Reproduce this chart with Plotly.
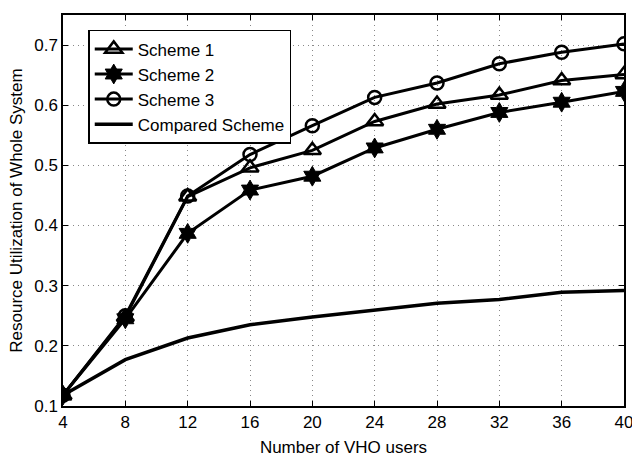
import plotly.graph_objects as go

users = [4, 8, 12, 16, 20, 24, 28, 32, 36, 40]
scheme1 = [0.118, 0.248, 0.448, 0.496, 0.525, 0.573, 0.602, 0.617, 0.641, 0.651]
scheme2 = [0.118, 0.245, 0.387, 0.459, 0.482, 0.529, 0.560, 0.588, 0.605, 0.623]
scheme3 = [0.118, 0.250, 0.449, 0.518, 0.566, 0.613, 0.637, 0.669, 0.688, 0.702]
compared = [0.118, 0.177, 0.213, 0.235, 0.248, 0.260, 0.271, 0.277, 0.289, 0.292]

x_ticks = [4, 8, 12, 16, 20, 24, 28, 32, 36, 40]
y_ticks = [0.1, 0.2, 0.3, 0.4, 0.5, 0.6, 0.7]

fig = go.Figure()
line = dict(color="black", width=3)
fig.add_trace(go.Scatter(x=users, y=scheme1, name="Scheme 1", mode="lines+markers",
                         line=line, marker=dict(symbol="triangle-up-open", size=15,
                                                color="black", line=dict(width=2.5, color="black"))))
fig.add_trace(go.Scatter(x=users, y=scheme2, name="Scheme 2", mode="lines+markers",
                         line=line, marker=dict(symbol="hexagram", size=15,
                                                color="black", line=dict(width=1, color="black"))))
fig.add_trace(go.Scatter(x=users, y=scheme3, name="Scheme 3", mode="lines+markers",
                         line=line, marker=dict(symbol="circle-open", size=13,
                                                color="black", line=dict(width=2.5, color="black"))))
fig.add_trace(go.Scatter(x=users, y=compared, name="Compared Scheme", mode="lines",
                         line=dict(color="black", width=3.5)))

axis_common = dict(showline=True, linecolor="black", linewidth=1.5, mirror="allticks",
                   ticks="inside", ticklen=5, tickcolor="black",
                   showgrid=True, gridcolor="#888888", griddash="1px,4px", gridwidth=1,
                   zeroline=False, tickfont=dict(size=17, color="black"), automargin=False,
                   ticklabeloverflow="allow")

fig.update_xaxes(range=[4, 40], tickvals=x_ticks,
                 title=dict(text="Number of VHO users", font=dict(size=17, color="black"), standoff=13),
                 **axis_common)
fig.update_yaxes(range=[0.1, 0.75], tickvals=y_ticks, ticktext=[f"{v:.1f}" for v in y_ticks],
                 title=dict(text="Resource Utilization of Whole System", font=dict(size=17, color="black"), standoff=7),
                 **axis_common)

fig.update_layout(
    width=632, height=457,
    margin=dict(l=63, r=8, t=15, b=51),
    plot_bgcolor="white", paper_bgcolor="white",
    font=dict(family="Liberation Sans, Arial, sans-serif", color="black"),
    legend=dict(x=0.045, y=0.962, xanchor="left", yanchor="top",
                bgcolor="white", bordercolor="black", borderwidth=1.5,
                font=dict(size=17, color="black"), tracegroupgap=0, itemwidth=38),
    showlegend=True,
)

fig.write_html("out.html", config={"displayModeBar": False},
               post_script="document.body.style.margin='0';")
